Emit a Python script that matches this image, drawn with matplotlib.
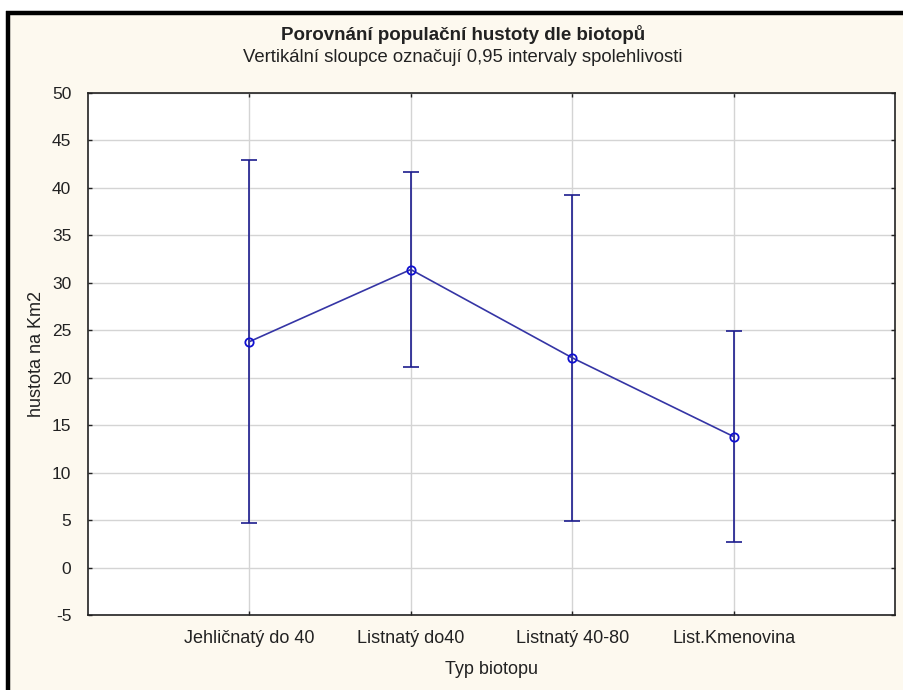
import matplotlib
matplotlib.use("Agg")
import matplotlib.pyplot as plt
from matplotlib.lines import Line2D
import numpy as np

plt.rcParams["font.family"] = ["Liberation Sans", "DejaVu Sans"]
plt.rcParams["axes.unicode_minus"] = False

# Mean density per habitat type with half-width of the 95 % confidence interval
habitats = ["Jehličnatý do 40", "Listnatý do40", "Listnatý 40-80", "List.Kmenovina"]
means = [23.8, 31.4, 22.1, 13.8]
ci_half = [19.1, 10.3, 17.2, 11.1]
y_ticks = [-5, 0, 5, 10, 15, 20, 25, 30, 35, 40, 45, 50]

W, H = 904, 690
fig = plt.figure(figsize=(W / 100, H / 100), dpi=100)
fig.patch.set_facecolor("white")

# cream panel with a thick black frame on the top and left side
bg = plt.Rectangle((6 / W, 0), 1 - 6 / W, 1 - 11 / H, transform=fig.transFigure,
                   facecolor="#fdf9ef", edgecolor="none", zorder=-10)
fig.patches.append(bg)
fig.add_artist(Line2D([6 / W, 1], [1 - 13 / H, 1 - 13 / H], transform=fig.transFigure,
                      color="black", lw=3.2, solid_capstyle="butt"))
fig.add_artist(Line2D([8 / W, 8 / W], [0, 1 - 11 / H], transform=fig.transFigure,
                      color="black", lw=3.2, solid_capstyle="butt"))

left, right, top, bottom = 88, 895, 93, 615
ax = fig.add_axes([left / W, 1 - bottom / H, (right - left) / W, (bottom - top) / H])
ax.set_facecolor("white")

x = np.arange(1, len(habitats) + 1)
ax.errorbar(x, means, yerr=ci_half, fmt="none", ecolor="#1c1c8e", elinewidth=1.2,
            capsize=6, capthick=1.2, zorder=3)
ax.plot(x, means, color="#3535a5", lw=1.2, zorder=4)
ax.plot(x, means, linestyle="none", marker="o", markersize=6, markerfacecolor="none",
        markeredgecolor="#1010d0", markeredgewidth=1.3, zorder=5)

ax.set_xlim(0, 5)
ax.set_ylim(-5, 50)
ax.set_xticks(x)
ax.set_xticklabels(habitats)
ax.set_yticks(y_ticks)
ax.grid(True, color="#d4d4d4", lw=1)
ax.set_axisbelow(True)
for s in ax.spines.values():
    s.set_color("#222222")
    s.set_linewidth(1.2)
ax.tick_params(direction="in", length=3, width=1, top=True, right=True,
               labelcolor="#222222", color="#222222")
ax.tick_params(axis="y", labelsize=12.5, pad=12)
ax.tick_params(axis="x", labelsize=13, pad=11)

ax.set_xlabel("Typ biotopu", fontsize=13, color="#222222", labelpad=10)
ax.set_ylabel("hustota na Km2", fontsize=13, color="#222222", labelpad=5)

cx = 463 / W
fig.text(cx, 1 - 35 / H, "Porovnání populační hustoty dle biotopů",
         ha="center", va="center", fontsize=13.5, fontweight="bold", color="#222222")
fig.text(cx, 1 - 58 / H, "Vertikální sloupce označují 0,95 intervaly spolehlivosti",
         ha="center", va="center", fontsize=13.3, color="#222222")

fig.savefig("out.png", dpi=100)
